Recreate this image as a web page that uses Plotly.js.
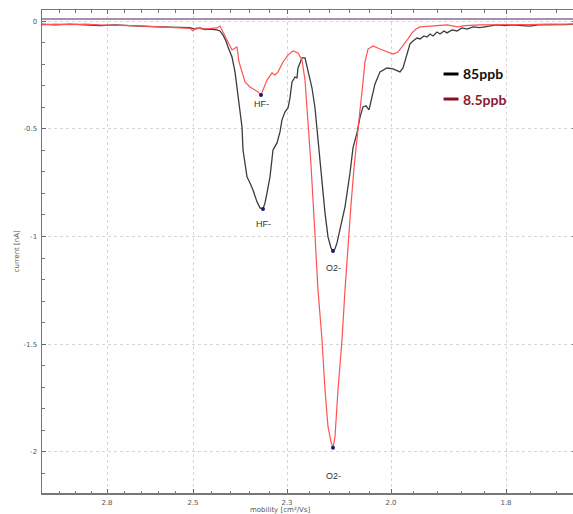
<!DOCTYPE html>
<html>
<head>
<meta charset="utf-8">
<script src="https://cdn.plot.ly/plotly-3.0.1.min.js"></script>
<style>
html,body{margin:0;padding:0;overflow:hidden;background:#fff;}
#chart{width:576px;height:514px;}
</style>
</head>
<body>
<div id="chart"></div>
<script>
// drift channel (linear axis) and current [nA]
const black85X = [42,55,70,85,100,115,130,145,160,175,185,190,195,200,205,210,217,220,223,226,228,230,232,235,238,240,242,243,245,247,250,253,257,260,263,265,267,270,273,277,280,282,285,288,290,292,295,297,298,302,305,308,312,315,318,322,325,328,331,333,335,337,340,345,350,353,357,360,363,366,369,372,375,380,387,393,400,403,407,410,413,417,420,424,427,430,433,437,440,444,447,452,457,462,467,473,480,490,497,505,513,522,530,538,548,557,565,576];
const black85Y = [-0.013,-0.017,-0.013,-0.017,-0.020,-0.017,-0.022,-0.024,-0.026,-0.029,-0.031,-0.029,-0.036,-0.031,-0.038,-0.036,-0.040,-0.045,-0.064,-0.092,-0.119,-0.143,-0.166,-0.235,-0.342,-0.435,-0.491,-0.598,-0.667,-0.723,-0.751,-0.784,-0.839,-0.867,-0.872,-0.844,-0.797,-0.723,-0.598,-0.565,-0.514,-0.458,-0.421,-0.403,-0.356,-0.282,-0.259,-0.263,-0.217,-0.170,-0.170,-0.235,-0.310,-0.403,-0.551,-0.737,-0.890,-1.002,-1.053,-1.067,-1.058,-1.030,-0.969,-0.862,-0.705,-0.588,-0.519,-0.445,-0.398,-0.393,-0.412,-0.356,-0.291,-0.235,-0.217,-0.221,-0.235,-0.217,-0.147,-0.105,-0.092,-0.078,-0.082,-0.068,-0.073,-0.059,-0.068,-0.050,-0.059,-0.045,-0.054,-0.040,-0.045,-0.031,-0.036,-0.026,-0.029,-0.022,-0.017,-0.020,-0.017,-0.020,-0.022,-0.017,-0.017,-0.015,-0.015,-0.013];

const red85X = [42,55,70,85,100,115,130,145,160,175,185,190,193,196,203,210,217,220,223,226,228,232,234,237,239,242,245,250,255,258,261,263,267,272,275,278,283,288,293,298,302,305,308,311,315,318,322,325,328,331,333,335,338,342,345,348,351,354,357,360,362,365,368,373,380,387,393,398,403,408,412,416,420,430,440,447,458,465,480,497,513,530,547,560,576];
const red85Y = [-0.017,-0.013,-0.015,-0.013,-0.017,-0.020,-0.020,-0.022,-0.026,-0.031,-0.033,-0.033,-0.045,-0.031,-0.036,-0.033,-0.031,-0.022,-0.050,-0.078,-0.101,-0.133,-0.128,-0.119,-0.189,-0.240,-0.282,-0.305,-0.319,-0.328,-0.342,-0.319,-0.273,-0.240,-0.249,-0.235,-0.189,-0.157,-0.138,-0.147,-0.180,-0.273,-0.458,-0.667,-0.993,-1.248,-1.480,-1.712,-1.884,-1.954,-1.982,-1.931,-1.712,-1.480,-1.248,-1.039,-0.853,-0.681,-0.528,-0.412,-0.328,-0.189,-0.129,-0.115,-0.129,-0.143,-0.152,-0.143,-0.115,-0.082,-0.054,-0.036,-0.026,-0.022,-0.020,-0.017,-0.026,-0.020,-0.017,-0.017,-0.015,-0.015,-0.013,-0.013,-0.013];

const peakX = [261, 263, 333, 333];
const peakY = [-0.342, -0.872, -1.067, -1.982];
const peakLabel = ['HF-', 'HF-', 'O2-', 'O2-'];

const baselineLevel = 0.0107;

const xTickVals = [107, 193, 287, 391, 506];
const xTickText = ['2.8', '2.5', '2.3', '2.0', '1.8'];
const xMinorVals = [43,59,75,91,124,141,158,175,211,230,249,269,309,329,349,369,413,437,461,484,530,556];
const yTickVals = [0, -0.5, -1, -1.5, -2];
const yTickText = ['0', '-0.5', '-1', '-1.5', '-2'];

const legendNames = ['85ppb', '8.5ppb'];
const legendColors = ['#111111', '#8b1a2b'];

// styles
const labelShift = [-9, -15, -17, -28];
const axisFont = {family: 'DejaVu Sans, sans-serif', size: 7, color: '#555'};

const traces = [
  {x: black85X, y: black85Y, mode: 'lines', line: {color: '#3c3c3c', width: 1.3}, showlegend: false, hoverinfo: 'skip'},
  {x: red85X, y: red85Y, mode: 'lines', line: {color: '#ff5252', width: 1.2}, showlegend: false, hoverinfo: 'skip'},
  {x: [42, 576], y: [baselineLevel, baselineLevel], mode: 'lines', line: {color: '#a890b0', width: 2.2}, showlegend: false, hoverinfo: 'skip'},
  {x: peakX, y: peakY, mode: 'markers', marker: {color: '#1c1c70', size: 4}, showlegend: false, hoverinfo: 'skip'}
];

const annotations = peakLabel.map((t, i) => ({
  x: peakX[i], y: peakY[i], xref: 'x', yref: 'y', text: t, showarrow: false,
  yshift: labelShift[i], yanchor: 'middle',
  font: {family: 'Liberation Sans, Arial, sans-serif', size: 9, color: '#333'}
}));

// axis titles
annotations.push({xref: 'paper', yref: 'paper', x: (280 - 42) / 534, y: -0.035, yanchor: 'middle', xanchor: 'center', text: 'mobility [cm²/Vs]', showarrow: false, font: axisFont});
annotations.push({xref: 'paper', yref: 'paper', x: -0.047, y: 0.5, textangle: -90, xanchor: 'center', yanchor: 'middle', text: 'current [nA]', showarrow: false, font: axisFont});

// legend text
const legendY = [0.8675, 0.8157];
const shapes = [];
legendNames.forEach((n, i) => {
  annotations.push({xref: 'paper', yref: 'paper', x: 0.784, y: legendY[i], xanchor: 'left', yanchor: 'middle', text: '<b>' + n + '</b>', showarrow: false, font: {family: 'Lato, sans-serif', size: 14, color: legendColors[i]}});
  shapes.push({type: 'line', xref: 'paper', yref: 'paper', x0: 0.752, x1: 0.780, y0: legendY[i], y1: legendY[i], line: {color: i === 0 ? '#000' : '#8b0f1e', width: 3}});
});

const layout = {
  width: 576, height: 514,
  margin: {l: 42, r: 0, t: 10, b: 21},
  paper_bgcolor: '#fff', plot_bgcolor: '#fff',
  showlegend: false,
  xaxis: {
    range: [42, 576], tickmode: 'array', tickvals: xTickVals, ticktext: xTickText,
    ticks: 'inside', ticklen: 4, tickcolor: '#666', tickwidth: 1,
    showline: true, linecolor: '#777', linewidth: 1.5, mirror: 'ticks',
    showgrid: true, gridcolor: '#d6d6d6', griddash: 'dot', gridwidth: 1,
    zeroline: false, tickfont: axisFont, ticklabelstandoff: 2,
    minor: {tickmode: 'array', tickvals: xMinorVals, ticks: 'inside', ticklen: 2.5, tickcolor: '#777', showgrid: false}
  },
  yaxis: {
    range: [-2.192, 0.0525], tickmode: 'array', tickvals: yTickVals, ticktext: yTickText,
    ticks: 'inside', ticklen: 4, tickcolor: '#666', tickwidth: 1,
    showline: true, linecolor: '#777', linewidth: 1.5, mirror: 'ticks',
    showgrid: true, gridcolor: '#d6d6d6', griddash: 'dot', gridwidth: 1,
    zeroline: false, tickfont: axisFont, ticklabelstandoff: 2,
    minor: {tickmode: 'linear', tick0: 0, dtick: 0.1, ticks: 'inside', ticklen: 2.5, tickcolor: '#777', showgrid: false}
  },
  annotations: annotations,
  shapes: shapes
};

Plotly.newPlot('chart', traces, layout, {displayModeBar: false, staticPlot: true});
</script>
</body>
</html>
